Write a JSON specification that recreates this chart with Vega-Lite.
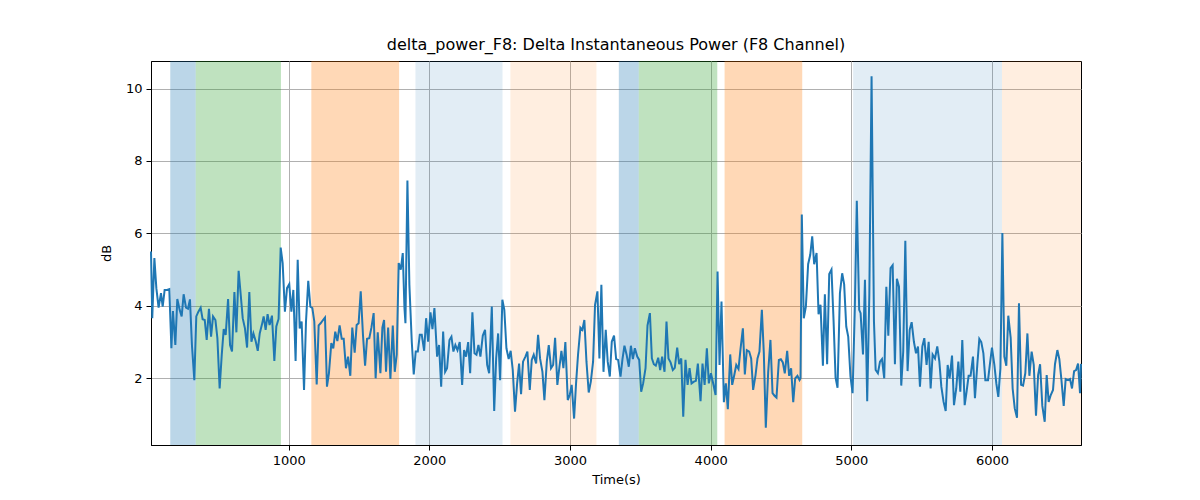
{
  "$schema": "https://vega.github.io/schema/vega-lite/v6.json",
  "description": "Delta instantaneous power for the F8 channel with shaded segments",
  "autosize": {"type": "none"},
  "padding": {"left": 151, "top": 61, "right": 119, "bottom": 55},
  "width": 930,
  "height": 384,
  "title": {
    "text": "delta_power_F8: Delta Instantaneous Power (F8 Channel)",
    "font": "DejaVu Sans",
    "fontSize": 16,
    "fontWeight": "normal",
    "color": "black",
    "offset": 8
  },
  "datasets": {
    "spans": [
      {"start": 158, "end": 339, "kind": "blue", "strength": "strong"},
      {"start": 339, "end": 945, "kind": "green", "strength": "strong"},
      {"start": 1161, "end": 1785, "kind": "orange", "strength": "strong"},
      {"start": 1901, "end": 2520, "kind": "blue", "strength": "light"},
      {"start": 2576, "end": 3188, "kind": "orange", "strength": "light"},
      {"start": 3347, "end": 3489, "kind": "blue", "strength": "strong"},
      {"start": 3489, "end": 4047, "kind": "green", "strength": "strong"},
      {"start": 4099, "end": 4651, "kind": "orange", "strength": "strong"},
      {"start": 5013, "end": 6071, "kind": "blue", "strength": "light"},
      {"start": 6071, "end": 6633, "kind": "orange", "strength": "light"}
    ],
    "power": [
      {"t": 21, "db": 5.5}, {"t": 30, "db": 3.66}, {"t": 45, "db": 5.32}, {"t": 59, "db": 4.49},
      {"t": 75, "db": 3.95}, {"t": 92, "db": 4.35}, {"t": 104, "db": 3.98}, {"t": 118, "db": 4.44},
      {"t": 135, "db": 4.44}, {"t": 151, "db": 4.46}, {"t": 166, "db": 2.83}, {"t": 177, "db": 3.86},
      {"t": 194, "db": 2.92}, {"t": 208, "db": 4.19}, {"t": 225, "db": 3.89}, {"t": 239, "db": 3.71},
      {"t": 253, "db": 4.32}, {"t": 270, "db": 3.95}, {"t": 284, "db": 3.92}, {"t": 298, "db": 4.18},
      {"t": 312, "db": 2.92}, {"t": 329, "db": 1.95}, {"t": 343, "db": 3.71}, {"t": 358, "db": 3.84},
      {"t": 374, "db": 3.95}, {"t": 388, "db": 3.63}, {"t": 403, "db": 3.61}, {"t": 417, "db": 3.06},
      {"t": 433, "db": 3.92}, {"t": 448, "db": 3.15}, {"t": 462, "db": 3.71}, {"t": 479, "db": 3.61},
      {"t": 493, "db": 3.11}, {"t": 509, "db": 1.72}, {"t": 524, "db": 2.65}, {"t": 538, "db": 3.36},
      {"t": 552, "db": 3.2}, {"t": 569, "db": 4.19}, {"t": 583, "db": 2.92}, {"t": 597, "db": 2.74},
      {"t": 614, "db": 4.38}, {"t": 628, "db": 3.27}, {"t": 644, "db": 4.97}, {"t": 659, "db": 4.3},
      {"t": 673, "db": 3.66}, {"t": 689, "db": 3.38}, {"t": 704, "db": 2.85}, {"t": 720, "db": 4.38},
      {"t": 735, "db": 3.01}, {"t": 749, "db": 3.24}, {"t": 765, "db": 3.03}, {"t": 780, "db": 2.76},
      {"t": 794, "db": 3.24}, {"t": 810, "db": 3.49}, {"t": 822, "db": 3.71}, {"t": 836, "db": 3.34},
      {"t": 850, "db": 3.77}, {"t": 864, "db": 3.47}, {"t": 881, "db": 3.73}, {"t": 898, "db": 2.48},
      {"t": 912, "db": 3.43}, {"t": 928, "db": 3.64}, {"t": 943, "db": 5.61}, {"t": 957, "db": 5.18},
      {"t": 973, "db": 3.84}, {"t": 988, "db": 4.49}, {"t": 1004, "db": 4.6}, {"t": 1019, "db": 3.84},
      {"t": 1033, "db": 4.44}, {"t": 1049, "db": 2.48}, {"t": 1064, "db": 5.27}, {"t": 1078, "db": 3.38},
      {"t": 1092, "db": 3.57}, {"t": 1109, "db": 1.68}, {"t": 1123, "db": 3.57}, {"t": 1139, "db": 4.69},
      {"t": 1154, "db": 3.98}, {"t": 1168, "db": 3.94}, {"t": 1182, "db": 3.57}, {"t": 1199, "db": 1.83},
      {"t": 1213, "db": 3.46}, {"t": 1227, "db": 3.52}, {"t": 1244, "db": 3.61}, {"t": 1258, "db": 3.68},
      {"t": 1272, "db": 1.77}, {"t": 1286, "db": 2.14}, {"t": 1303, "db": 2.97}, {"t": 1317, "db": 2.83},
      {"t": 1331, "db": 3.29}, {"t": 1346, "db": 3.03}, {"t": 1362, "db": 3.46}, {"t": 1377, "db": 3.09},
      {"t": 1391, "db": 3.09}, {"t": 1407, "db": 2.28}, {"t": 1422, "db": 2.6}, {"t": 1438, "db": 2.07},
      {"t": 1452, "db": 3.4}, {"t": 1469, "db": 2.71}, {"t": 1483, "db": 3.47}, {"t": 1497, "db": 3.52},
      {"t": 1512, "db": 4.4}, {"t": 1528, "db": 3.2}, {"t": 1543, "db": 2.35}, {"t": 1557, "db": 3.09},
      {"t": 1573, "db": 3.11}, {"t": 1588, "db": 3.4}, {"t": 1604, "db": 3.8}, {"t": 1618, "db": 2.0},
      {"t": 1633, "db": 3.27}, {"t": 1652, "db": 2.14}, {"t": 1666, "db": 3.4}, {"t": 1678, "db": 3.61},
      {"t": 1692, "db": 2.18}, {"t": 1707, "db": 3.4}, {"t": 1723, "db": 1.98}, {"t": 1740, "db": 3.46},
      {"t": 1754, "db": 2.18}, {"t": 1768, "db": 2.65}, {"t": 1782, "db": 5.18}, {"t": 1797, "db": 5.0},
      {"t": 1811, "db": 5.46}, {"t": 1823, "db": 3.94}, {"t": 1830, "db": 3.52}, {"t": 1844, "db": 7.46},
      {"t": 1858, "db": 4.58}, {"t": 1875, "db": 3.01}, {"t": 1889, "db": 2.11}, {"t": 1903, "db": 2.74},
      {"t": 1918, "db": 2.74}, {"t": 1932, "db": 3.2}, {"t": 1946, "db": 3.2}, {"t": 1963, "db": 2.76},
      {"t": 1977, "db": 3.66}, {"t": 1991, "db": 3.01}, {"t": 2008, "db": 3.82}, {"t": 2022, "db": 3.36},
      {"t": 2036, "db": 3.94}, {"t": 2055, "db": 2.6}, {"t": 2069, "db": 2.92}, {"t": 2084, "db": 1.77},
      {"t": 2098, "db": 3.29}, {"t": 2112, "db": 2.18}, {"t": 2126, "db": 2.28}, {"t": 2143, "db": 3.06},
      {"t": 2157, "db": 3.15}, {"t": 2171, "db": 2.74}, {"t": 2185, "db": 2.92}, {"t": 2200, "db": 2.78},
      {"t": 2216, "db": 3.0}, {"t": 2233, "db": 1.82}, {"t": 2247, "db": 2.78}, {"t": 2261, "db": 2.6},
      {"t": 2276, "db": 3.0}, {"t": 2290, "db": 2.14}, {"t": 2306, "db": 3.82}, {"t": 2321, "db": 2.69},
      {"t": 2335, "db": 2.65}, {"t": 2349, "db": 2.92}, {"t": 2363, "db": 2.6}, {"t": 2380, "db": 3.18},
      {"t": 2396, "db": 3.34}, {"t": 2411, "db": 2.37}, {"t": 2425, "db": 2.14}, {"t": 2444, "db": 3.98},
      {"t": 2461, "db": 1.1}, {"t": 2475, "db": 2.55}, {"t": 2489, "db": 3.24}, {"t": 2503, "db": 1.95},
      {"t": 2519, "db": 4.17}, {"t": 2533, "db": 3.89}, {"t": 2548, "db": 2.83}, {"t": 2564, "db": 2.53},
      {"t": 2578, "db": 2.76}, {"t": 2593, "db": 2.23}, {"t": 2609, "db": 1.08}, {"t": 2624, "db": 1.86},
      {"t": 2638, "db": 2.41}, {"t": 2652, "db": 1.56}, {"t": 2666, "db": 2.46}, {"t": 2683, "db": 2.6},
      {"t": 2697, "db": 2.74}, {"t": 2714, "db": 1.68}, {"t": 2728, "db": 2.51}, {"t": 2742, "db": 2.65},
      {"t": 2759, "db": 2.41}, {"t": 2773, "db": 3.2}, {"t": 2787, "db": 2.55}, {"t": 2804, "db": 2.18},
      {"t": 2818, "db": 1.4}, {"t": 2835, "db": 2.46}, {"t": 2849, "db": 2.92}, {"t": 2865, "db": 2.28},
      {"t": 2880, "db": 2.37}, {"t": 2894, "db": 3.12}, {"t": 2910, "db": 1.82}, {"t": 2925, "db": 2.32},
      {"t": 2939, "db": 2.76}, {"t": 2953, "db": 2.28}, {"t": 2967, "db": 3.0}, {"t": 2984, "db": 1.4},
      {"t": 2998, "db": 1.54}, {"t": 3012, "db": 1.82}, {"t": 3029, "db": 0.89}, {"t": 3043, "db": 1.86},
      {"t": 3057, "db": 2.65}, {"t": 3074, "db": 3.4}, {"t": 3088, "db": 3.34}, {"t": 3102, "db": 3.61},
      {"t": 3117, "db": 2.46}, {"t": 3133, "db": 1.61}, {"t": 3148, "db": 1.91}, {"t": 3164, "db": 2.46},
      {"t": 3178, "db": 4.03}, {"t": 3195, "db": 4.4}, {"t": 3209, "db": 2.55}, {"t": 3223, "db": 4.58},
      {"t": 3238, "db": 2.18}, {"t": 3254, "db": 3.34}, {"t": 3268, "db": 2.46}, {"t": 3283, "db": 2.05},
      {"t": 3297, "db": 3.01}, {"t": 3313, "db": 3.18}, {"t": 3328, "db": 2.53}, {"t": 3342, "db": 2.51},
      {"t": 3359, "db": 2.05}, {"t": 3373, "db": 2.53}, {"t": 3387, "db": 2.9}, {"t": 3402, "db": 2.66},
      {"t": 3418, "db": 2.32}, {"t": 3433, "db": 2.9}, {"t": 3447, "db": 2.53}, {"t": 3461, "db": 2.83},
      {"t": 3478, "db": 2.6}, {"t": 3492, "db": 2.51}, {"t": 3506, "db": 1.63}, {"t": 3520, "db": 1.86},
      {"t": 3537, "db": 2.28}, {"t": 3551, "db": 3.46}, {"t": 3568, "db": 3.8}, {"t": 3582, "db": 2.55},
      {"t": 3596, "db": 2.39}, {"t": 3610, "db": 2.35}, {"t": 3627, "db": 2.57}, {"t": 3641, "db": 2.23},
      {"t": 3655, "db": 2.6}, {"t": 3672, "db": 2.18}, {"t": 3686, "db": 3.57}, {"t": 3700, "db": 2.55},
      {"t": 3715, "db": 2.44}, {"t": 3731, "db": 2.23}, {"t": 3745, "db": 2.29}, {"t": 3762, "db": 2.85},
      {"t": 3776, "db": 2.39}, {"t": 3791, "db": 2.55}, {"t": 3805, "db": 0.94}, {"t": 3821, "db": 2.51},
      {"t": 3836, "db": 1.82}, {"t": 3850, "db": 2.28}, {"t": 3864, "db": 1.86}, {"t": 3881, "db": 1.91},
      {"t": 3895, "db": 1.93}, {"t": 3909, "db": 2.41}, {"t": 3928, "db": 1.37}, {"t": 3942, "db": 2.41},
      {"t": 3957, "db": 1.82}, {"t": 3973, "db": 2.83}, {"t": 3987, "db": 1.86}, {"t": 4002, "db": 2.14},
      {"t": 4018, "db": 1.86}, {"t": 4035, "db": 1.54}, {"t": 4049, "db": 4.95}, {"t": 4063, "db": 2.37},
      {"t": 4077, "db": 4.12}, {"t": 4094, "db": 1.34}, {"t": 4108, "db": 1.86}, {"t": 4122, "db": 1.15},
      {"t": 4139, "db": 2.66}, {"t": 4153, "db": 1.82}, {"t": 4168, "db": 2.09}, {"t": 4182, "db": 2.37},
      {"t": 4198, "db": 2.26}, {"t": 4212, "db": 2.8}, {"t": 4229, "db": 3.38}, {"t": 4243, "db": 2.11},
      {"t": 4257, "db": 2.78}, {"t": 4274, "db": 2.74}, {"t": 4288, "db": 2.55}, {"t": 4302, "db": 1.68},
      {"t": 4319, "db": 2.09}, {"t": 4333, "db": 2.55}, {"t": 4347, "db": 2.74}, {"t": 4364, "db": 3.89},
      {"t": 4378, "db": 2.69}, {"t": 4392, "db": 0.64}, {"t": 4409, "db": 2.18}, {"t": 4425, "db": 3.06},
      {"t": 4440, "db": 1.59}, {"t": 4454, "db": 1.52}, {"t": 4468, "db": 1.47}, {"t": 4485, "db": 2.51},
      {"t": 4499, "db": 2.53}, {"t": 4513, "db": 2.44}, {"t": 4527, "db": 2.14}, {"t": 4544, "db": 2.76},
      {"t": 4558, "db": 2.07}, {"t": 4572, "db": 2.28}, {"t": 4587, "db": 1.34}, {"t": 4601, "db": 2.0},
      {"t": 4617, "db": 2.07}, {"t": 4632, "db": 1.95}, {"t": 4639, "db": 2.0}, {"t": 4648, "db": 6.52},
      {"t": 4662, "db": 3.66}, {"t": 4677, "db": 3.98}, {"t": 4693, "db": 5.15}, {"t": 4708, "db": 5.41},
      {"t": 4722, "db": 5.92}, {"t": 4736, "db": 5.15}, {"t": 4753, "db": 5.46}, {"t": 4767, "db": 3.77},
      {"t": 4781, "db": 4.03}, {"t": 4798, "db": 2.35}, {"t": 4812, "db": 4.32}, {"t": 4828, "db": 2.39},
      {"t": 4843, "db": 4.88}, {"t": 4859, "db": 5.0}, {"t": 4874, "db": 3.57}, {"t": 4888, "db": 2.02},
      {"t": 4902, "db": 1.74}, {"t": 4919, "db": 4.35}, {"t": 4935, "db": 4.9}, {"t": 4949, "db": 4.6},
      {"t": 4964, "db": 3.43}, {"t": 4978, "db": 3.15}, {"t": 4994, "db": 2.05}, {"t": 5009, "db": 1.59},
      {"t": 5025, "db": 3.94}, {"t": 5039, "db": 6.9}, {"t": 5056, "db": 3.89}, {"t": 5066, "db": 3.8},
      {"t": 5083, "db": 2.66}, {"t": 5097, "db": 4.72}, {"t": 5113, "db": 1.37}, {"t": 5128, "db": 4.3},
      {"t": 5144, "db": 10.34}, {"t": 5161, "db": 3.57}, {"t": 5173, "db": 2.23}, {"t": 5189, "db": 2.14},
      {"t": 5204, "db": 2.46}, {"t": 5218, "db": 2.53}, {"t": 5234, "db": 2.0}, {"t": 5249, "db": 4.53},
      {"t": 5263, "db": 3.18}, {"t": 5279, "db": 5.04}, {"t": 5294, "db": 5.12}, {"t": 5310, "db": 2.39},
      {"t": 5324, "db": 4.75}, {"t": 5339, "db": 4.53}, {"t": 5355, "db": 1.8}, {"t": 5369, "db": 2.74},
      {"t": 5384, "db": 5.8}, {"t": 5400, "db": 2.2}, {"t": 5415, "db": 3.34}, {"t": 5429, "db": 3.55},
      {"t": 5445, "db": 3.01}, {"t": 5460, "db": 2.69}, {"t": 5474, "db": 2.88}, {"t": 5488, "db": 1.77},
      {"t": 5505, "db": 2.88}, {"t": 5519, "db": 3.11}, {"t": 5535, "db": 2.37}, {"t": 5550, "db": 3.01},
      {"t": 5564, "db": 1.72}, {"t": 5578, "db": 2.66}, {"t": 5595, "db": 2.55}, {"t": 5611, "db": 2.88},
      {"t": 5626, "db": 2.46}, {"t": 5640, "db": 1.77}, {"t": 5656, "db": 1.35}, {"t": 5671, "db": 1.1},
      {"t": 5685, "db": 2.37}, {"t": 5699, "db": 2.0}, {"t": 5716, "db": 2.63}, {"t": 5730, "db": 1.26},
      {"t": 5746, "db": 1.72}, {"t": 5761, "db": 2.46}, {"t": 5775, "db": 1.63}, {"t": 5789, "db": 3.06},
      {"t": 5806, "db": 1.26}, {"t": 5820, "db": 1.65}, {"t": 5834, "db": 2.07}, {"t": 5848, "db": 2.07},
      {"t": 5865, "db": 2.6}, {"t": 5879, "db": 1.45}, {"t": 5896, "db": 2.39}, {"t": 5910, "db": 3.09},
      {"t": 5924, "db": 3.0}, {"t": 5939, "db": 2.69}, {"t": 5953, "db": 1.95}, {"t": 5972, "db": 1.95},
      {"t": 5986, "db": 2.41}, {"t": 6000, "db": 2.85}, {"t": 6017, "db": 2.37}, {"t": 6031, "db": 1.86},
      {"t": 6045, "db": 1.49}, {"t": 6060, "db": 2.28}, {"t": 6074, "db": 6.01}, {"t": 6088, "db": 2.6},
      {"t": 6102, "db": 2.35}, {"t": 6116, "db": 3.73}, {"t": 6133, "db": 3.12}, {"t": 6147, "db": 1.72},
      {"t": 6162, "db": 1.17}, {"t": 6178, "db": 0.91}, {"t": 6192, "db": 4.07}, {"t": 6207, "db": 1.82},
      {"t": 6221, "db": 1.8}, {"t": 6237, "db": 2.14}, {"t": 6252, "db": 3.24}, {"t": 6266, "db": 2.07},
      {"t": 6282, "db": 2.74}, {"t": 6297, "db": 2.37}, {"t": 6313, "db": 0.97}, {"t": 6328, "db": 2.09},
      {"t": 6342, "db": 2.39}, {"t": 6358, "db": 1.24}, {"t": 6375, "db": 0.8}, {"t": 6389, "db": 2.09},
      {"t": 6403, "db": 1.35}, {"t": 6418, "db": 1.54}, {"t": 6434, "db": 1.68}, {"t": 6448, "db": 2.39},
      {"t": 6465, "db": 2.78}, {"t": 6479, "db": 2.53}, {"t": 6494, "db": 1.95}, {"t": 6510, "db": 1.24},
      {"t": 6524, "db": 1.98}, {"t": 6541, "db": 1.95}, {"t": 6555, "db": 1.98}, {"t": 6569, "db": 1.72},
      {"t": 6584, "db": 2.2}, {"t": 6598, "db": 2.23}, {"t": 6612, "db": 2.41}, {"t": 6626, "db": 1.59},
      {"t": 6633, "db": 2.4}
    ]
  },
  "layer": [
    {
      "data": {"name": "spans"},
      "transform": [{"filter": "datum.strength === 'strong'"}],
      "mark": {"type": "rect", "opacity": 0.3},
      "encoding": {
        "x": {"field": "start", "type": "quantitative"},
        "x2": {"field": "end"},
        "color": {
          "field": "kind",
          "type": "nominal",
          "scale": {"domain": ["blue", "green", "orange"], "range": ["#1f77b4", "#2ca02c", "#ff7f0e"]},
          "legend": null
        }
      }
    },
    {
      "data": {"name": "spans"},
      "transform": [{"filter": "datum.strength === 'light'"}],
      "mark": {"type": "rect", "opacity": 0.13},
      "encoding": {
        "x": {"field": "start", "type": "quantitative"},
        "x2": {"field": "end"},
        "color": {
          "field": "kind",
          "type": "nominal",
          "scale": {"domain": ["blue", "green", "orange"], "range": ["#1f77b4", "#2ca02c", "#ff7f0e"]},
          "legend": null
        }
      }
    },
    {
      "data": {"name": "power"},
      "mark": {"type": "line", "color": "#1f77b4", "strokeWidth": 2},
      "encoding": {
        "x": {"field": "t", "type": "quantitative"},
        "y": {"field": "db", "type": "quantitative"}
      }
    }
  ],
  "encoding": {
    "x": {
      "type": "quantitative",
      "title": "Time(s)",
      "scale": {"domain": [21, 6633], "nice": false, "zero": false},
      "axis": {"values": [1000, 2000, 3000, 4000, 5000, 6000], "format": "d"}
    },
    "y": {
      "type": "quantitative",
      "title": "dB",
      "scale": {"domain": [0.16, 10.76], "nice": false, "zero": false},
      "axis": {"values": [2, 4, 6, 8, 10], "format": "d"}
    }
  },
  "config": {
    "font": "DejaVu Sans",
    "view": {"stroke": "black", "strokeWidth": 1},
    "axis": {
      "labelFont": "DejaVu Sans",
      "labelFontSize": 13,
      "labelColor": "black",
      "titleFont": "DejaVu Sans",
      "titleFontSize": 13,
      "titleFontWeight": "normal",
      "titleColor": "black",
      "domainColor": "black",
      "tickColor": "black",
      "tickSize": 5,
      "labelPadding": 4,
      "gridColor": "#b0b0b0",
      "gridWidth": 1,
      "gridOpacity": 1
    },
    "axisX": {"titlePadding": 6},
    "axisY": {"titlePadding": 12, "labelFlush": false}
  }
}
